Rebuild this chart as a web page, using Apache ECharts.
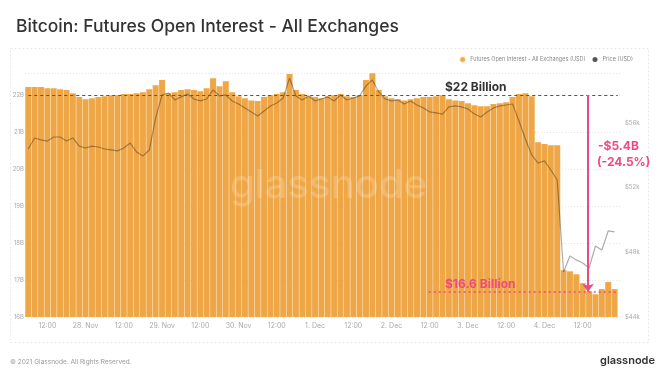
<!DOCTYPE html>
<html><head><meta charset="utf-8">
<script src="https://cdn.jsdelivr.net/npm/echarts@6/dist/echarts.min.js"></script>
<style>html,body{margin:0;padding:0;background:#fff}#c{width:660px;height:389px}</style>
</head><body><div id="c"></div>
<script>
// Time base: 2-hourly samples starting 27 Nov 2021 06:00 UTC
const START = Date.UTC(2021, 10, 27, 6);
const STEP_HOURS = 2;
const X_MAX = Date.UTC(2021, 11, 4, 23);

// Futures open interest, all exchanges (billion USD)
const openInterest = [
  22.22, 22.22, 22.22, 22.19, 22.19, 22.16, 22.14, 22.05, 21.95, 21.89,
  21.92, 21.95, 21.97, 22.00, 22.00, 22.03, 22.03, 22.05, 22.08, 22.16,
  22.27, 22.41, 22.05, 22.08, 22.14, 22.16, 22.14, 22.11, 22.19, 22.46,
  22.24, 22.38, 22.08, 21.97, 21.92, 21.86, 21.84, 21.95, 22.00, 22.03,
  22.08, 22.57, 22.14, 22.03, 21.97, 21.95, 21.92, 21.97, 22.00, 22.03,
  21.97, 21.95, 22.00, 22.41, 22.59, 22.14, 21.97, 21.92, 21.89, 21.86,
  21.89, 21.92, 21.95, 21.95, 21.97, 22.00, 21.89, 21.86, 21.84, 21.78,
  21.73, 21.70, 21.70, 21.76, 21.78, 21.81, 21.95, 22.03, 22.05, 21.97,
  20.73, 20.68, 20.65, 20.65, 17.27, 17.24, 17.16, 16.92, 16.70, 16.62,
  16.76, 16.95, 16.76
];

// BTC price (thousand USD)
const price = [
  54.39, 55.07, 54.95, 54.88, 55.13, 55.13, 54.88, 55.07, 54.57, 54.45,
  54.57, 54.51, 54.39, 54.33, 54.27, 54.45, 54.76, 54.20, 53.96, 54.33,
  56.31, 57.73, 57.85, 57.42, 57.61, 57.79, 57.48, 57.36, 57.48, 58.04,
  57.67, 57.73, 57.36, 57.17, 56.93, 56.68, 56.43, 56.74, 57.05, 57.23,
  57.54, 58.78, 57.67, 57.42, 57.67, 57.36, 57.48, 57.61, 57.36, 57.73,
  57.42, 57.54, 57.67, 58.29, 58.66, 57.91, 57.48, 57.36, 57.42, 57.17,
  57.36, 57.11, 56.93, 56.68, 56.62, 56.55, 56.99, 57.05, 56.99, 56.86,
  56.55, 56.37, 56.68, 56.93, 57.05, 57.11, 57.17, 56.12, 55.01, 54.02,
  53.52, 53.65, 53.09, 52.47, 46.78, 47.77, 47.53, 47.34, 47.03, 48.39,
  48.14, 49.32, 49.26
];

const leftTickLabels = ['16B', '17B', '18B', '19B', '20B', '21B', '22B'];
const rightTickLabels = ['$44k', '$48k', '$52k', '$56k'];
const months = ['Jan','Feb','Mar','Apr','May','Jun','Jul','Aug','Sep','Oct','Nov','Dec'];

// Annotation values
const topLevel = 22;
const bottomLevel = 16.68;
const bottomLineStart = Date.UTC(2021, 11, 2, 11, 40);
const arrowTime = Date.UTC(2021, 11, 4, 13, 40);

const PINK = '#ef4a7f';
const ORANGE = '#eea646';

const times = openInterest.map((_, i) => START + i * STEP_HOURS * 3600 * 1000);
const oiData = openInterest.map((v, i) => [times[i], v]);
const priceData = price.map((v, i) => [times[i], v]);

const chart = echarts.init(document.getElementById('c'), null, {renderer: 'canvas'});
chart.setOption({
  useUTC: true,
  animation: false,
  backgroundColor: '#fff',
  title: {
    text: 'Bitcoin: Futures Open Interest - All Exchanges',
    left: 11, top: 13,
    textStyle: {fontFamily: 'Inter', fontSize: 17.5, fontWeight: 500, color: '#333'}
  },
  legend: {
    right: 22, top: 51,
    itemWidth: 5, itemHeight: 5, itemGap: 7,
    icon: 'circle',
    textStyle: {fontSize: 5.5, color: '#888', fontFamily: 'Inter'},
    data: ['Futures Open Interest - All Exchanges (USD)', 'Price (USD)']
  },
  grid: {left: 25, right: 39, top: 72.8, bottom: 72, containLabel: false},
  xAxis: {
    type: 'time',
    min: START, max: X_MAX,
    minInterval: 12 * 3600 * 1000,
    maxInterval: 12 * 3600 * 1000,
    axisLine: {show: false},
    axisTick: {show: false},
    splitLine: {show: false},
    axisLabel: {
      fontSize: 7, color: '#aaa', fontFamily: 'Inter', margin: 5,
      hideOverlap: false,
      formatter: function (v) {
        if (v < START || v > X_MAX) return '';
        const d = new Date(v);
        const h = d.getUTCHours();
        if (h === 12 && d.getUTCMinutes() === 0) return '12:00';
        if (h === 0 && d.getUTCMinutes() === 0) return d.getUTCDate() + '. ' + months[d.getUTCMonth()];
        return '';
      }
    }
  },
  yAxis: [{
    type: 'value', min: 16, max: 22.6, interval: 1, position: 'left',
    axisLine: {show: false}, axisTick: {show: false},
    splitLine: {show: true, lineStyle: {color: '#e6e6e6', type: [1, 2]}},
    axisLabel: {
      fontSize: 6, color: '#aaa', fontFamily: 'Inter', margin: 1,
      padding: [0, 0, 6, 0],
      formatter: function (v) {
        const i = Math.round(v - 16);
        return (Math.abs(v - Math.round(v)) < 1e-6 && leftTickLabels[i]) ? leftTickLabels[i] : '';
      }
    }
  }, {
    type: 'value', min: 44, max: 59.1, interval: 4, position: 'right',
    axisLine: {show: false}, axisTick: {show: false},
    splitLine: {show: false},
    axisLabel: {
      fontSize: 6, color: '#aaa', fontFamily: 'Inter', margin: 4,
      padding: [0, 0, 6, 0],
      formatter: function (v) {
        const i = Math.round((v - 44) / 4);
        return (Math.abs((v - 44) / 4 - i) < 1e-6 && rightTickLabels[i]) ? rightTickLabels[i] : '';
      }
    }
  }],
  series: [{
    name: 'Futures Open Interest - All Exchanges (USD)',
    type: 'bar',
    yAxisIndex: 0,
    data: oiData,
    barCategoryGap: '0%',
    itemStyle: {color: ORANGE, borderColor: 'rgba(255,210,140,0.35)', borderWidth: 0.4},
    z: 2,
    markLine: {
      silent: true,
      symbol: 'none',
      label: {show: false},
      data: [
        [{coord: [START, topLevel], lineStyle: {color: '#555', type: [3, 3], width: 1}},
         {coord: [X_MAX, topLevel]}],
        [{coord: [bottomLineStart, bottomLevel], lineStyle: {color: PINK, type: [2, 3], width: 1.5}},
         {coord: [X_MAX, bottomLevel]}],
        [{coord: [arrowTime, topLevel], symbol: 'none', lineStyle: {color: PINK, type: 'solid', width: 2}},
         {coord: [arrowTime, bottomLevel], symbol: 'arrow', symbolSize: [9, 8]}]
      ]
    }
  }, {
    name: 'Price (USD)',
    type: 'line',
    yAxisIndex: 1,
    data: priceData,
    showSymbol: false,
    lineStyle: {width: 1.2, color: 'rgba(0,0,0,0.32)'},
    itemStyle: {color: '#555'},
    z: 3
  }],
  graphic: [
    {type: 'rect', shape: {x: 10.5, y: 48.5, width: 638, height: 294},
     style: {fill: 'none', stroke: '#e8e8e8', lineDash: [2, 2], lineWidth: 1}, z: -1},
    {type: 'text', left: 230, top: 166, z: 5,
     style: {text: 'glassnode', fontSize: 40, fontWeight: 500, fontFamily: 'Inter', fill: 'rgba(255,255,255,0.2)'}},
    {type: 'text', left: 445, top: 81, z: 10,
     style: {text: '$22 Billion', fontSize: 12, fontWeight: 'bold', fontFamily: 'Inter', fill: '#333'}},
    {type: 'text', left: 445, top: 278, z: 10,
     style: {text: '$16.6 Billion', fontSize: 12, fontWeight: 'bold', fontFamily: 'Inter', fill: PINK}},
    {type: 'text', left: 598, top: 140, z: 10,
     style: {text: '-$5.4B', fontSize: 12, fontWeight: 'bold', fontFamily: 'Inter', fill: PINK}},
    {type: 'text', left: 597, top: 156, z: 10,
     style: {text: '(-24.5%)', fontSize: 12, fontWeight: 'bold', fontFamily: 'Inter', fill: PINK}},
    {type: 'text', left: 10, top: 359,
     style: {text: '© 2021 Glassnode. All Rights Reserved.', fontSize: 6.5, fontFamily: 'Inter', fill: '#999'}},
    {type: 'text', left: 600, top: 355,
     style: {text: 'glassnode', fontSize: 11, fontWeight: 600, fontFamily: 'Inter', fill: '#333'}}
  ]
});
</script>
</body></html>
